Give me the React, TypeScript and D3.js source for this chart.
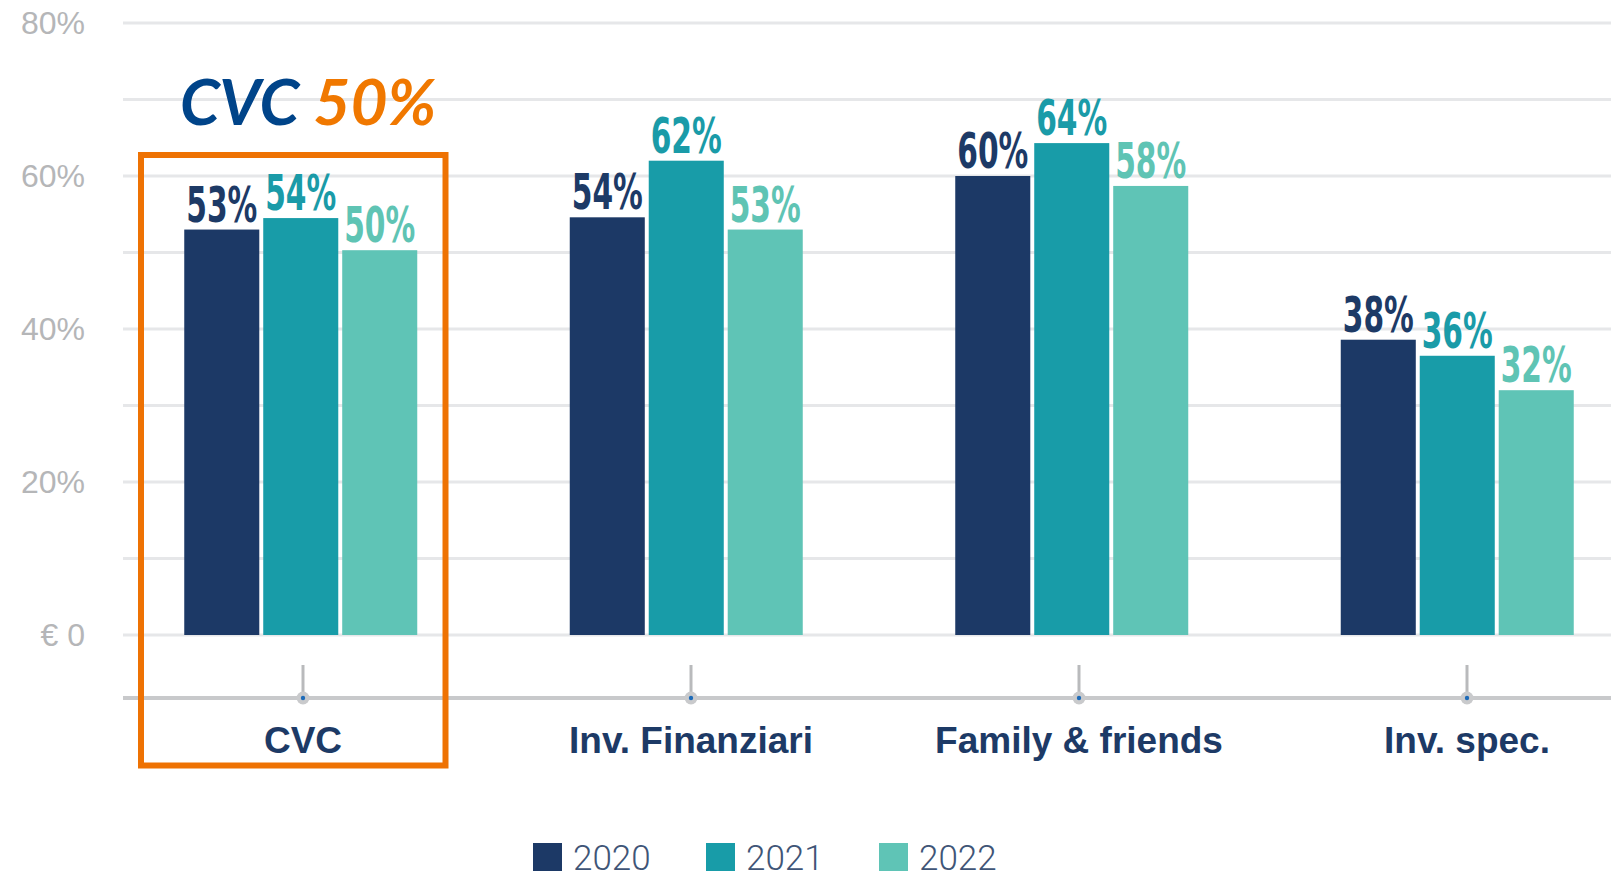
import React from "react";
import * as d3 from "d3";

const categories = ["CVC", "Inv. Finanziari", "Family & friends", "Inv. spec."];
const years = ["2020", "2021", "2022"];
const values2020 = [53, 54.6, 60, 38.6];
const values2021 = [54.5, 62, 64.3, 36.5];
const values2022 = [50.3, 53, 58.7, 32];
const labels2020 = ["53%", "54%", "60%", "38%"];
const labels2021 = ["54%", "62%", "64%", "36%"];
const labels2022 = ["50%", "53%", "58%", "32%"];
const yTickLabels = ["€ 0", "20%", "40%", "60%", "80%"];
const yTickValues = [0, 20, 40, 60, 80];

const barColors = ["#1c3966", "#189ca8", "#5fc4b6"];
const labelColors = ["#1d3a66", "#1a9ba8", "#5fc4b4"];

export default function App() {
  const width = 1611,
    height = 871;

  const series = [values2020, values2021, values2022];
  const labels = [labels2020, labels2021, labels2022];

  const y = d3.scaleLinear().domain([0, 80]).range([635, 23]);
  const xTick = d3.scaleBand().domain(categories).range([109, 1661]);
  const xBar = d3.scaleBand().domain(categories).range([108, 1650]);
  const groupWidth = 233;
  const x1 = d3.scaleBand().domain(years).range([0, groupWidth]).paddingInner(0.05);
  const gridTicks = d3.range(0, 81, 10);
  const axisY = 698;

  return (
    <svg
      width={width}
      height={height}
      style={{ position: "absolute", left: 0, top: 0, background: "#fff" }}
    >
      {/* grid */}
      {gridTicks.map((t) => (
        <line
          key={t}
          x1={123}
          x2={width}
          y1={y(t)}
          y2={y(t)}
          stroke="#e6e7e9"
          strokeWidth={3}
        />
      ))}
      {yTickValues.map((t, i) => (
        <text
          key={t}
          x={85}
          y={y(t) + 11}
          textAnchor="end"
          fontFamily="Liberation Sans, Arial, sans-serif"
          fontSize={32}
          fill="#b5b6b8"
        >
          {yTickLabels[i]}
        </text>
      ))}

      {/* bars */}
      {categories.map((c, ci) => {
        const gx = (xBar(c) as number) + xBar.bandwidth() / 2 - groupWidth / 2;
        return (
          <g key={c} transform={`translate(${gx},0)`}>
            {years.map((yr, si) => {
              const v = series[si][ci];
              const bx = x1(yr) as number;
              return (
                <g key={yr}>
                  <rect
                    x={bx}
                    y={y(v)}
                    width={x1.bandwidth()}
                    height={y(0) - y(v)}
                    fill={barColors[si]}
                  />
                  <text
                    x={bx + x1.bandwidth() / 2}
                    y={y(v) - 8}
                    textAnchor="middle"
                    fontFamily="Liberation Sans Narrow, DejaVu Sans Condensed, sans-serif"
                    fontWeight="bold"
                    fontSize={50}
                    textLength={x1.bandwidth() - 4}
                    lengthAdjust="spacingAndGlyphs"
                    fill={labelColors[si]}
                  >
                    {labels[si][ci]}
                  </text>
                </g>
              );
            })}
          </g>
        );
      })}

      {/* x axis */}
      <line x1={123} x2={width} y1={axisY} y2={axisY} stroke="#c8c9cb" strokeWidth={4} />
      {categories.map((c) => {
        const cx = (xTick(c) as number) + xTick.bandwidth() / 2;
        return (
          <g key={c}>
            <line x1={cx} x2={cx} y1={665} y2={axisY} stroke="#b9babc" strokeWidth={3} />
            <circle cx={cx} cy={axisY} r={6.5} fill="#c9cacc" />
            <circle cx={cx} cy={axisY} r={2.2} fill="#1e6bb8" />
            <text
              x={cx}
              y={753}
              textAnchor="middle"
              fontFamily="Liberation Sans, Arial, sans-serif"
              fontWeight="bold"
              fontSize={37}
              fill="#1d3a66"
            >
              {c}
            </text>
          </g>
        );
      })}

      {/* highlight annotation */}
      <rect x={141} y={155} width={304.5} height={610.5} fill="none" stroke="#ee7203" strokeWidth={6} />
      <text
        x={180}
        y={125}
        fontFamily="Lato, Open Sans, sans-serif"
        fontWeight="bold"
        fontStyle="italic"
        fontSize={64}
      >
        <tspan fill="#004489">CVC </tspan>
        <tspan fill="#f07800">50%</tspan>
      </text>

      {/* legend */}
      {years.map((yr, i) => {
        const lx = 533 + i * 173;
        return (
          <g key={yr}>
            <rect x={lx} y={843} width={29} height={40} fill={barColors[i]} />
            <text
              x={lx + 40}
              y={870}
              fontFamily="Roboto, Liberation Sans, sans-serif"
              fontWeight={300}
              fontSize={35}
              fill="#3f5577"
            >
              {yr}
            </text>
          </g>
        );
      })}
    </svg>
  );
}
